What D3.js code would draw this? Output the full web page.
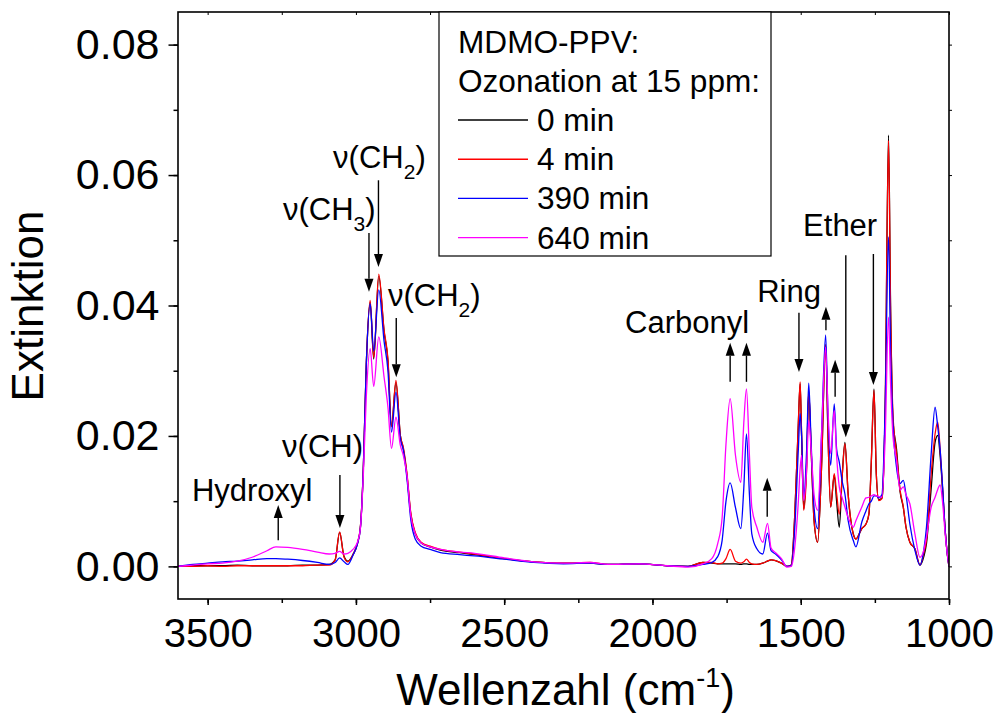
<!DOCTYPE html>
<html>
<head>
<meta charset="utf-8">
<script src="https://cdn.jsdelivr.net/npm/d3@7"></script>
<style>
  html, body { margin: 0; padding: 0; background: #fff; }
  svg { display: block; font-family: Arial, "Liberation Sans", sans-serif; }
</style>
</head>
<body>
<svg id="chart" width="1002" height="713"></svg>
<script>
// FTIR spectra of MDMO-PPV films after ozone exposure (15 ppm)
const wavenumber = [
  3600, 3550, 3500, 3450, 3400, 3350, 3300, 3270, 3230, 3180, 3130, 3090, 3070, 3055, 3040, 3027,
  3010, 2995, 2985, 2975, 2965, 2952, 2940, 2923, 2905, 2892, 2880, 2865, 2850, 2840, 2828, 2815,
  2800, 2780, 2750, 2715, 2650, 2600, 2500, 2400, 2300, 2210, 2150, 2045, 1950, 1880, 1830, 1800,
  1780, 1765, 1752, 1738, 1720, 1702, 1692, 1683, 1673, 1665, 1648, 1628, 1612, 1600, 1585, 1565,
  1547, 1532, 1520, 1508, 1502, 1497, 1490, 1480, 1473, 1465, 1455, 1443, 1430, 1416, 1408, 1399,
  1387, 1379, 1370, 1360, 1351, 1340, 1323, 1314, 1294, 1280, 1270, 1262, 1253, 1245, 1237, 1226,
  1215, 1204, 1197, 1189, 1177, 1165, 1154, 1145, 1132, 1115, 1098, 1085, 1076, 1060, 1047, 1038,
  1030, 1022, 1012, 1006, 1000
];

const ext0min = [
  0.0000, 0.0001, 0.0001, 0.0001, 0.0002, 0.0001, 0.0001, 0.0001, 0.0001, 0.0002, 0.0002, 0.0003, 0.0010, 0.0052, 0.0015, 0.0008,
  0.0018, 0.0035, 0.0060, 0.0150, 0.0310, 0.0405, 0.0318, 0.0445, 0.0360, 0.0315, 0.0215, 0.0282, 0.0200, 0.0180, 0.0140, 0.0080,
  0.0050, 0.0036, 0.0030, 0.0025, 0.0021, 0.0018, 0.0012, 0.0007, 0.0005, 0.0005, 0.0003, 0.0004, 0.0001, 0.0000, 0.0006, 0.0005,
  0.0004, 0.0004, 0.0004, 0.0004, 0.0004, 0.0003, 0.0004, 0.0004, 0.0003, 0.0003, 0.0003, 0.0005, 0.0008, 0.0010, 0.0009, 0.0005,
  0.0000, 0.0002, 0.0080, 0.0220, 0.0280, 0.0200, 0.0088, 0.0160, 0.0268, 0.0180, 0.0070, 0.0037, 0.0150, 0.0340, 0.0200, 0.0091,
  0.0140, 0.0100, 0.0060, 0.0140, 0.0190, 0.0110, 0.0050, 0.0042, 0.0058, 0.0065, 0.0080, 0.0160, 0.0272, 0.0140, 0.0102, 0.0105,
  0.0250, 0.0661, 0.0400, 0.0225, 0.0180, 0.0115, 0.0090, 0.0060, 0.0037, 0.0027, 0.0002, 0.0015, 0.0035, 0.0120, 0.0190, 0.0201,
  0.0170, 0.0120, 0.0050, 0.0020, 0.0000
];

const ext4min = [
  0.0000, 0.0000, 0.0001, 0.0000, 0.0001, 0.0001, 0.0001, 0.0001, 0.0001, 0.0001, 0.0002, 0.0002, 0.0010, 0.0053, 0.0014, 0.0007,
  0.0018, 0.0035, 0.0060, 0.0150, 0.0310, 0.0408, 0.0320, 0.0448, 0.0362, 0.0318, 0.0214, 0.0285, 0.0200, 0.0182, 0.0143, 0.0082,
  0.0052, 0.0037, 0.0031, 0.0026, 0.0022, 0.0019, 0.0012, 0.0007, 0.0005, 0.0006, 0.0003, 0.0004, 0.0001, 0.0000, 0.0006, 0.0006,
  0.0004, 0.0005, 0.0012, 0.0026, 0.0008, 0.0005, 0.0007, 0.0011, 0.0006, 0.0004, 0.0003, 0.0005, 0.0008, 0.0010, 0.0009, 0.0005,
  0.0000, 0.0002, 0.0080, 0.0220, 0.0283, 0.0200, 0.0086, 0.0150, 0.0270, 0.0180, 0.0070, 0.0037, 0.0150, 0.0340, 0.0200, 0.0091,
  0.0142, 0.0112, 0.0080, 0.0140, 0.0188, 0.0110, 0.0050, 0.0042, 0.0058, 0.0065, 0.0081, 0.0160, 0.0270, 0.0140, 0.0101, 0.0104,
  0.0250, 0.0653, 0.0390, 0.0234, 0.0173, 0.0117, 0.0091, 0.0060, 0.0037, 0.0027, 0.0002, 0.0020, 0.0040, 0.0142, 0.0203, 0.0221,
  0.0180, 0.0122, 0.0050, 0.0020, 0.0000
];

const ext390min = [
  0.0000, 0.0003, 0.0005, 0.0007, 0.0008, 0.0010, 0.0012, 0.0012, 0.0011, 0.0009, 0.0006, 0.0003, 0.0006, 0.0013, 0.0007, 0.0003,
  0.0017, 0.0034, 0.0058, 0.0150, 0.0310, 0.0403, 0.0330, 0.0424, 0.0345, 0.0300, 0.0206, 0.0267, 0.0195, 0.0178, 0.0135, 0.0072,
  0.0042, 0.0031, 0.0026, 0.0021, 0.0018, 0.0016, 0.0011, 0.0006, 0.0004, 0.0005, 0.0003, 0.0004, 0.0001, 0.0000, 0.0003, 0.0006,
  0.0015, 0.0040, 0.0100, 0.0128, 0.0090, 0.0058, 0.0120, 0.0203, 0.0110, 0.0050, 0.0027, 0.0019, 0.0051, 0.0024, 0.0019, 0.0010,
  0.0000, 0.0001, 0.0060, 0.0180, 0.0234, 0.0200, 0.0106, 0.0180, 0.0281, 0.0190, 0.0090, 0.0058, 0.0200, 0.0355, 0.0230, 0.0155,
  0.0249, 0.0180, 0.0160, 0.0130, 0.0111, 0.0070, 0.0040, 0.0030, 0.0068, 0.0085, 0.0096, 0.0100, 0.0108, 0.0108, 0.0105, 0.0110,
  0.0250, 0.0505, 0.0330, 0.0220, 0.0152, 0.0127, 0.0132, 0.0110, 0.0065, 0.0025, 0.0002, 0.0025, 0.0060, 0.0173, 0.0244, 0.0214,
  0.0180, 0.0125, 0.0050, 0.0020, 0.0000
];

const ext640min = [
  0.0000, 0.0002, 0.0004, 0.0005, 0.0008, 0.0014, 0.0024, 0.0030, 0.0029, 0.0026, 0.0022, 0.0019, 0.0020, 0.0023, 0.0019, 0.0020,
  0.0026, 0.0037, 0.0058, 0.0140, 0.0260, 0.0334, 0.0276, 0.0352, 0.0290, 0.0244, 0.0181, 0.0229, 0.0185, 0.0170, 0.0140, 0.0078,
  0.0050, 0.0036, 0.0030, 0.0026, 0.0022, 0.0020, 0.0013, 0.0007, 0.0005, 0.0006, 0.0003, 0.0004, 0.0001, -0.0001, 0.0004, 0.0012,
  0.0035, 0.0075, 0.0188, 0.0257, 0.0170, 0.0129, 0.0220, 0.0272, 0.0170, 0.0091, 0.0060, 0.0037, 0.0066, 0.0028, 0.0021, 0.0012,
  -0.0001, 0.0000, 0.0030, 0.0100, 0.0150, 0.0170, 0.0101, 0.0150, 0.0224, 0.0180, 0.0110, 0.0086, 0.0200, 0.0336, 0.0240, 0.0173,
  0.0239, 0.0170, 0.0122, 0.0105, 0.0091, 0.0075, 0.0060, 0.0070, 0.0091, 0.0105, 0.0106, 0.0108, 0.0110, 0.0108, 0.0107, 0.0106,
  0.0200, 0.0382, 0.0280, 0.0200, 0.0163, 0.0117, 0.0122, 0.0110, 0.0096, 0.0050, 0.0014, 0.0025, 0.0045, 0.0091, 0.0106, 0.0118,
  0.0125, 0.0100, 0.0045, 0.0020, 0.0000
];

const seriesLabels = ["0 min", "4 min", "390 min", "640 min"];
const seriesValues = [ext0min, ext4min, ext390min, ext640min];
const seriesColors = ["#000000", "#ff0000", "#0000ff", "#ff00ff"];

const xTickValues = [3500, 3000, 2500, 2000, 1500, 1000];
const xMinorValues = [3500, 3250, 3000, 2750, 2500, 2250, 2000, 1750, 1500, 1250, 1000];
const yTickValues = [0.00, 0.02, 0.04, 0.06, 0.08];
const yMinorValues = [0.00, 0.01, 0.02, 0.03, 0.04, 0.05, 0.06, 0.07, 0.08];

// band assignments: label text, subscript, label anchor (wavenumber, extinction)
const bandLabels = [
  { text: "ν(CH", sub: "2", tail: ")", w: 3077, v: 0.0611, anchor: "start" },
  { text: "ν(CH", sub: "3", tail: ")", w: 3246, v: 0.0531, anchor: "start" },
  { text: "ν(CH", sub: "2", tail: ")", w: 2892, v: 0.0399, anchor: "start" },
  { text: "ν(CH)", sub: "", tail: "", w: 3249, v: 0.0168, anchor: "start" },
  { text: "Hydroxyl", sub: "", tail: "", w: 3553, v: 0.0100, anchor: "start" },
  { text: "Carbonyl", sub: "", tail: "", w: 1674, v: 0.0358, anchor: "end" },
  { text: "Ring", sub: "", tail: "", w: 1647, v: 0.0406, anchor: "start" },
  { text: "Ether", sub: "", tail: "", w: 1492, v: 0.0506, anchor: "start" }
];

// arrows: wavenumber, extinction at tail, extinction at tip
const bandArrows = [
  { w: 2956, from: 0.0511, to: 0.0421 },
  { w: 2924, from: 0.0592, to: 0.0459 },
  { w: 2864, from: 0.0381, to: 0.0290 },
  { w: 3054, from: 0.0140, to: 0.0059 },
  { w: 3262, from: 0.0040, to: 0.0094 },
  { w: 1738, from: 0.0283, to: 0.0343 },
  { w: 1683, from: 0.0283, to: 0.0343 },
  { w: 1613, from: 0.0076, to: 0.0136 },
  { w: 1506, from: 0.0389, to: 0.0298 },
  { w: 1415, from: 0.0362, to: 0.0398 },
  { w: 1384, from: 0.0260, to: 0.0317 },
  { w: 1348, from: 0.0477, to: 0.0198 },
  { w: 1255, from: 0.0479, to: 0.0278 }
];

const svg = d3.select("#chart");
const plot = { left: 178, right: 949, top: 12, bottom: 599 };

const x = d3.scaleLinear().domain([3600, 1000]).range([plot.left, plot.right]);
const y = d3.scaleLinear().domain([-0.005, 0.085]).range([plot.bottom, plot.top]);

// clip spectra to the plotting frame
svg.append("defs").append("clipPath").attr("id", "frameClip")
  .append("rect")
  .attr("x", plot.left).attr("y", plot.top)
  .attr("width", plot.right - plot.left).attr("height", plot.bottom - plot.top);

// spectra
const line = d3.line()
  .x((d, i) => x(wavenumber[i]))
  .y(d => y(d))
  .curve(d3.curveMonotoneX);

const spectra = svg.append("g").attr("clip-path", "url(#frameClip)");
seriesValues.forEach((vals, k) => {
  spectra.append("path")
    .datum(vals)
    .attr("d", line)
    .attr("fill", "none")
    .attr("stroke", seriesColors[k])
    .attr("stroke-width", 1.3)
    .attr("stroke-linejoin", "round");
});

// axes
const axisFont = "Arial, 'Liberation Sans', sans-serif";

const xAxis = svg.append("g").attr("transform", `translate(0,${plot.bottom})`)
  .call(d3.axisBottom(x).tickValues(xTickValues).tickFormat(d3.format("d"))
    .tickSizeInner(6).tickSizeOuter(0).tickPadding(14));
xAxis.select(".domain").remove();
xAxis.selectAll("text").attr("font-size", 40).attr("font-family", axisFont).attr("fill", "#000");
xAxis.selectAll("line").attr("stroke-width", 1.5);

const xMinor = svg.append("g").attr("transform", `translate(0,${plot.bottom})`)
  .call(d3.axisBottom(x).tickValues(xMinorValues).tickFormat("").tickSizeInner(4).tickSizeOuter(0));
xMinor.select(".domain").remove();
xMinor.selectAll("line").attr("stroke-width", 1.5);

const xTop = svg.append("g").attr("transform", `translate(0,${plot.top})`)
  .call(d3.axisBottom(x).tickValues(xMinorValues).tickFormat("").tickSizeInner(3).tickSizeOuter(0));
xTop.select(".domain").remove();
xTop.selectAll("line").attr("stroke-width", 1);

const yAxis = svg.append("g").attr("transform", `translate(${plot.left},0)`)
  .call(d3.axisLeft(y).tickValues(yTickValues).tickFormat(d3.format(".2f"))
    .tickSizeInner(9.5).tickSizeOuter(0).tickPadding(9));
yAxis.select(".domain").remove();
yAxis.selectAll("text").attr("font-size", 43).attr("font-family", axisFont).attr("fill", "#000");
yAxis.selectAll("line").attr("stroke-width", 1.5);

const yMinor = svg.append("g").attr("transform", `translate(${plot.left},0)`)
  .call(d3.axisLeft(y).tickValues(yMinorValues).tickFormat("").tickSizeInner(4.5).tickSizeOuter(0));
yMinor.select(".domain").remove();
yMinor.selectAll("line").attr("stroke-width", 1.5);

const yRight = svg.append("g").attr("transform", `translate(${plot.right},0)`)
  .call(d3.axisRight(y).tickValues(yMinorValues).tickFormat("").tickSizeInner(3).tickSizeOuter(0));
yRight.select(".domain").remove();
yRight.selectAll("line").attr("stroke-width", 1);

// frame
svg.append("rect")
  .attr("x", plot.left).attr("y", plot.top)
  .attr("width", plot.right - plot.left).attr("height", plot.bottom - plot.top)
  .attr("fill", "none").attr("stroke", "#000").attr("stroke-width", 1.6);

// axis titles
const xTitle = svg.append("text")
  .attr("x", (plot.left + plot.right) / 2 + 2).attr("y", 705)
  .attr("text-anchor", "middle").attr("font-size", 44).attr("font-family", axisFont);
xTitle.append("tspan").text("Wellenzahl (cm");
xTitle.append("tspan").attr("font-size", 27).attr("dy", -18).text("-1");
xTitle.append("tspan").attr("dy", 18).text(")");

svg.append("text")
  .attr("transform", `translate(43,306) rotate(-90)`)
  .attr("text-anchor", "middle").attr("font-size", 44).attr("font-family", axisFont)
  .text("Extinktion");

// band arrows
const headLen = 13, headHalf = 4.5;
const arrows = svg.append("g");
bandArrows.forEach(a => {
  const ax = x(a.w), y0 = y(a.from), y1 = y(a.to);
  const dir = y1 > y0 ? 1 : -1;
  arrows.append("line")
    .attr("x1", ax).attr("x2", ax)
    .attr("y1", y0).attr("y2", y1 - dir * headLen)
    .attr("stroke", "#000").attr("stroke-width", 1.4);
  arrows.append("path")
    .attr("d", `M${ax},${y1} L${ax - headHalf},${y1 - dir * headLen} L${ax + headHalf},${y1 - dir * headLen} Z`)
    .attr("fill", "#000");
});

// band labels
const labels = svg.append("g").attr("font-family", axisFont).attr("font-size", 31);
bandLabels.forEach(b => {
  const t = labels.append("text")
    .attr("x", x(b.w)).attr("y", y(b.v))
    .attr("text-anchor", b.anchor);
  t.append("tspan").text(b.text);
  if (b.sub) {
    t.append("tspan").attr("font-size", 21).attr("dy", 11).text(b.sub);
    t.append("tspan").attr("dy", -11).text(b.tail);
  }
});

// legend
const legend = svg.append("g").attr("font-family", axisFont).attr("font-size", 31.6);
legend.append("rect")
  .attr("x", 439).attr("y", plot.top).attr("width", 332).attr("height", 244)
  .attr("fill", "#fff").attr("stroke", "#000").attr("stroke-width", 1.2);
legend.append("text").attr("x", 458).attr("y", 53).text("MDMO-PPV:");
legend.append("text").attr("x", 458).attr("y", 92).text("Ozonation at 15 ppm:");
seriesLabels.forEach((lab, k) => {
  const by = 131 + k * 39.2;
  legend.append("line")
    .attr("x1", 458).attr("x2", 528).attr("y1", by - 11).attr("y2", by - 11)
    .attr("stroke", seriesColors[k]).attr("stroke-width", 1.4);
  legend.append("text").attr("x", 537).attr("y", by).text(lab);
});
</script>
</body>
</html>
